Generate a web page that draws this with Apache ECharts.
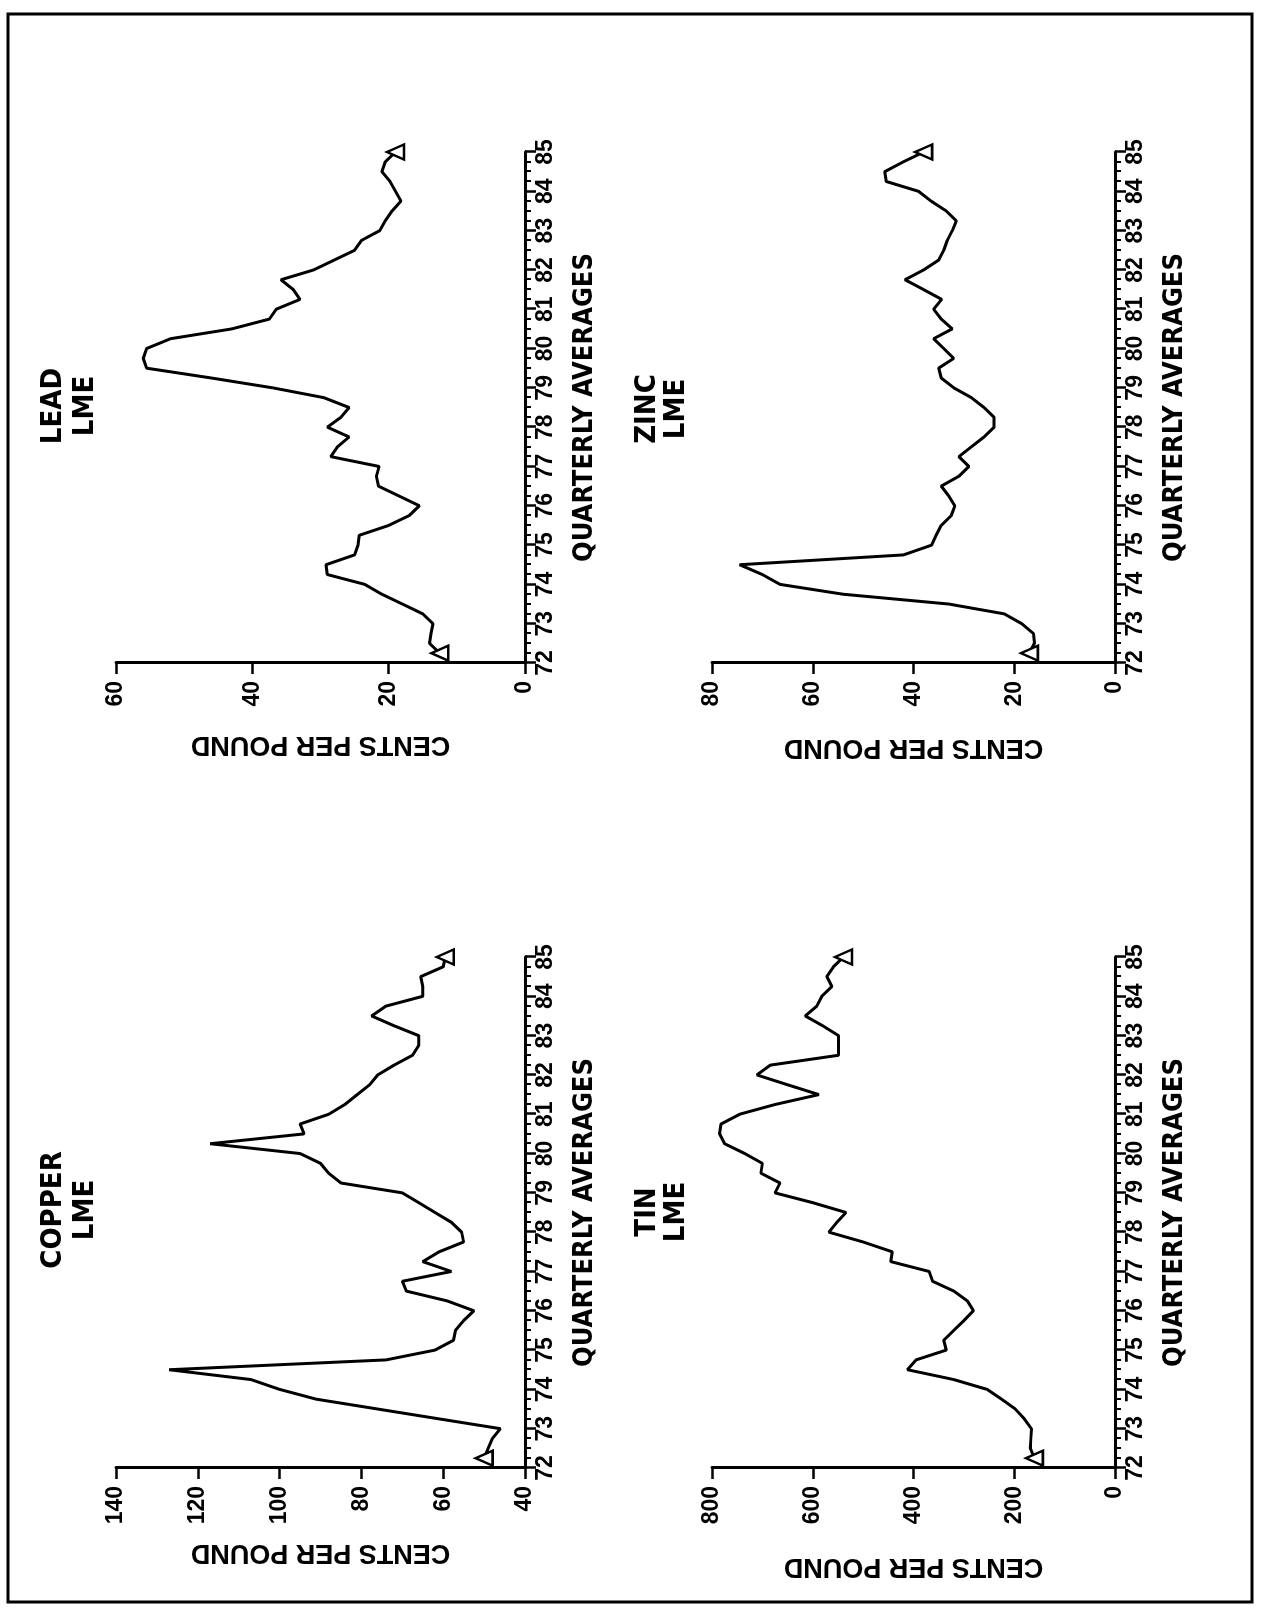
<!DOCTYPE html>
<html>
<head>
<meta charset="utf-8">
<script src="https://cdn.jsdelivr.net/npm/echarts/dist/echarts.min.js"></script>
<style>
html,body{margin:0;padding:0;background:#fff;overflow:hidden;width:1268px;height:1612px;}
#chart{position:absolute;left:0;top:0;width:1612px;height:1268px;transform-origin:0 0;transform:translateY(1612px) rotate(-90deg);background:#fff;}
</style>
</head>
<body>
<div id="chart"></div>
<script>
// Quarterly averages, 1972 Q1 .. 1984 Q4 (plotted at quarter end)
const quarters = [72.25,72.5,72.75,73,73.25,73.5,73.75,74,74.25,74.5,74.75,75,75.25,75.5,75.75,76,
  76.25,76.5,76.75,77,77.25,77.5,77.75,78,78.25,78.5,78.75,79,79.25,79.5,79.75,80,
  80.25,80.5,80.75,81,81.25,81.5,81.75,82,82.25,82.5,82.75,83,83.25,83.5,83.75,84,
  84.25,84.5,84.75,85];
const yearLabels = ['72','73','74','75','76','77','78','79','80','81','82','83','84','85'];

const copper = [50,49,48,46, 61,76,91,100, 107,127,74,62, 57.5,57,55,52.5, 59,69,70,58,
  65,61,55,55.5, 58,62,66,70, 85,88,90,95, 117,94,95,88, 84,81,78,76, 72,67.5,66,66,
  72,77.5,74,65, 65,65.5,60,59.5];
const lead = [12.5,14,13.8,13.5, 15,18,21,23.5, 29,29.2,25,24.5, 24.3,20,17,15.5, 18.5,21.5,21.8,21.4,
  28.5,27.5,25.8,29, 27,25.8,29.5,37, 46,55.5,56,55.5, 52,43,37.5,36.5, 33,34,35.8,31,
  28,25,24,21.3, 20.5,19.5,18.2,19, 19.8,21,20.5,19];
const tin = [160,168,167,166, 180,198,225,254, 320,412,395,335, 340,320,300,281, 293,320,362,369,
  445,442,500,568, 552,534,600,675, 665,703,700,735, 775,785,782,745, 674,588,650,711,
  684,549,549,549, 580,615,592,582, 562,572,559,539];
const zinc = [17,16,16.2,18.5, 22,33,54,66.5, 70,74.5,42,36.4, 35.5,34.5,32.5,31.8, 33,34.5,31,29,
  31,28.5,26,24, 24,26,28.5,32, 34.5,35,32,34, 36,32.3,34.5,36, 34.4,38,41.7,38,
  35,34,33.3,32.3, 31.5,33.5,36.5,39, 45.4,45.7,42,38];

const titles = [['COPPER','LME'],['LEAD','LME'],['TIN','LME'],['ZINC','LME']];
const xName = 'QUARTERLY AVERAGES';
const yName = 'CENTS PER POUND';

const FONT_NUM = "'Liberation Sans', Arial, sans-serif";
const FONT_NARROW = "'Liberation Sans Narrow','DejaVu Sans Condensed','Liberation Sans',sans-serif";

const panels = [
  {vals: copper, min: 40, max: 140, interval: 20, grid: {left: 144, top: 116, width: 511, height: 409}, tx: 402, ty: [53, 85], yGap: 71},
  {vals: lead, min: 0, max: 60, interval: 20, grid: {left: 949, top: 116, width: 511, height: 409}, tx: 1206, ty: [53, 85], yGap: 68},
  {vals: tin, min: 0, max: 800, interval: 200, grid: {left: 144, top: 712, width: 511, height: 403}, tx: 400, ty: [647, 676], yGap: 85},
  {vals: zinc, min: 0, max: 80, interval: 20, grid: {left: 949, top: 712, width: 511, height: 403}, tx: 1203, ty: [647, 676], yGap: 71}
];

const black = '#000';
const grids = [], xAxes = [], yAxes = [], series = [], graphics = [];

graphics.push({type: 'rect', shape: {x: 10, y: 8, width: 1588, height: 1244},
  style: {fill: 'none', stroke: black, lineWidth: 3}, z: 10});

panels.forEach((p, i) => {
  grids.push(Object.assign({containLabel: false}, p.grid));
  xAxes.push({
    gridIndex: i, type: 'value', min: 72, max: 85, interval: 1, position: 'bottom',
    axisLine: {show: true, onZero: false, lineStyle: {color: black, width: 3}},
    axisTick: {show: true, length: 11, lineStyle: {color: black, width: 2.5}},
    minorTick: {show: true, splitNumber: 4, length: 6, lineStyle: {color: black, width: 2}},
    splitLine: {show: false}, minorSplitLine: {show: false},
    axisLabel: {show: true, color: black, fontSize: 23, fontWeight: 'bold', fontFamily: FONT_NUM, margin: 9,
      formatter: v => yearLabels[Math.round(v) - 72]},
    name: xName, nameLocation: 'middle', nameGap: 46,
    nameTextStyle: {color: black, fontSize: 27, fontWeight: 'bold', fontFamily: FONT_NARROW}
  });
  yAxes.push({
    gridIndex: i, type: 'value', min: p.min, max: p.max, interval: p.interval, position: 'left',
    axisLine: {show: true, onZero: false, lineStyle: {color: black, width: 3}},
    axisTick: {show: true, length: 11, lineStyle: {color: black, width: 2.5}},
    splitLine: {show: false},
    axisLabel: {show: true, color: black, fontSize: 23, fontWeight: 'bold', fontFamily: FONT_NUM, margin: 18},
    name: yName, nameLocation: 'middle', nameRotate: 90, nameGap: p.yGap,
    nameTextStyle: {color: black, fontSize: 27, fontWeight: 'bold', fontFamily: FONT_NUM}
  });
  const last = quarters.length - 1;
  series.push({
    type: 'line', xAxisIndex: i, yAxisIndex: i, animation: false, silent: true,
    symbol: 'triangle', showAllSymbol: true, z: 3,
    lineStyle: {color: black, width: 3},
    itemStyle: {color: '#fff', borderColor: black, borderWidth: 2.5},
    data: quarters.map((q, j) => (j === 0 || j === last)
      ? {value: [q, p.vals[j]], symbol: 'triangle', symbolSize: [15, 17]}
      : {value: [q, p.vals[j]], symbol: 'none', symbolSize: 0})
  });
  titles[i].forEach((t, k) => {
    graphics.push({type: 'text', x: p.tx, y: p.ty[k],
      style: {text: t, fill: black, fontSize: 29, fontWeight: 'bold', fontFamily: FONT_NARROW,
        align: 'center', verticalAlign: 'middle'}});
  });
});

const chart = echarts.init(document.getElementById('chart'), null, {renderer: 'canvas'});
chart.setOption({
  backgroundColor: '#fff',
  animation: false,
  grid: grids, xAxis: xAxes, yAxis: yAxes, series: series,
  graphic: graphics
});
</script>
</body>
</html>
